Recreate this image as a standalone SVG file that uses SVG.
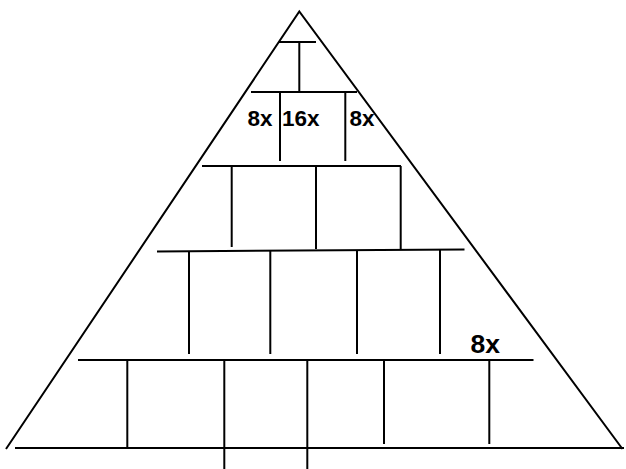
<svg xmlns="http://www.w3.org/2000/svg" width="626" height="469" viewBox="0 0 626 469">
<style>
.ln{stroke:#000;stroke-width:2;fill:none;stroke-linecap:butt}
.lbl{font-family:"Liberation Sans",Arial,sans-serif;font-weight:bold;fill:#000}
</style>
<rect width="626" height="469" fill="#fff"/>
<g id="pyramid">
<path class="ln" d="M6,449 L299.3,11.5 L622.5,449"/>
</g>
<g id="level1">
<line class="ln" x1="279" y1="42" x2="316" y2="42"/>
</g>
<g id="level2">
<line class="ln" x1="251" y1="92" x2="357" y2="92"/>
</g>
<g id="level3">
<line class="ln" x1="202" y1="166" x2="401" y2="166"/>
</g>
<g id="level4">
<line class="ln" x1="157" y1="251.5" x2="464.5" y2="249.5"/>
</g>
<g id="level5">
<line class="ln" x1="78" y1="360" x2="533.5" y2="360"/>
</g>
<g id="base">
<line class="ln" x1="15" y1="448" x2="624" y2="448"/>
</g>
<g id="connectors">
<line class="ln" x1="299.3" y1="42" x2="299.3" y2="92"/>
<line class="ln" x1="280" y1="92" x2="280" y2="161"/>
<line class="ln" x1="345.3" y1="92" x2="345.3" y2="161"/>
<line class="ln" x1="231.7" y1="166" x2="231.7" y2="247"/>
<line class="ln" x1="316" y1="166" x2="316" y2="249"/>
<line class="ln" x1="400.7" y1="166" x2="400.7" y2="249"/>
<line class="ln" x1="189" y1="251.5" x2="189" y2="354"/>
<line class="ln" x1="270.3" y1="251" x2="270.3" y2="354"/>
<line class="ln" x1="357" y1="250" x2="357" y2="354"/>
<line class="ln" x1="440" y1="249.5" x2="440" y2="354"/>
<line class="ln" x1="127.3" y1="360" x2="127.3" y2="447"/>
<line class="ln" x1="224.3" y1="360" x2="224.3" y2="470"/>
<line class="ln" x1="307.3" y1="360" x2="307.3" y2="470"/>
<line class="ln" x1="384" y1="360" x2="384" y2="444"/>
<line class="ln" x1="489.3" y1="360" x2="489.3" y2="444"/>
</g>
<g id="labels">
<text class="lbl" x="247.5" y="125.5" font-size="22.5">8x</text>
<text class="lbl" x="282" y="125.5" font-size="22.5">16x</text>
<text class="lbl" x="349.5" y="125.5" font-size="22.5">8x</text>
<text class="lbl" x="470.5" y="352.5" font-size="26.5">8x</text>
</g>
</svg>
